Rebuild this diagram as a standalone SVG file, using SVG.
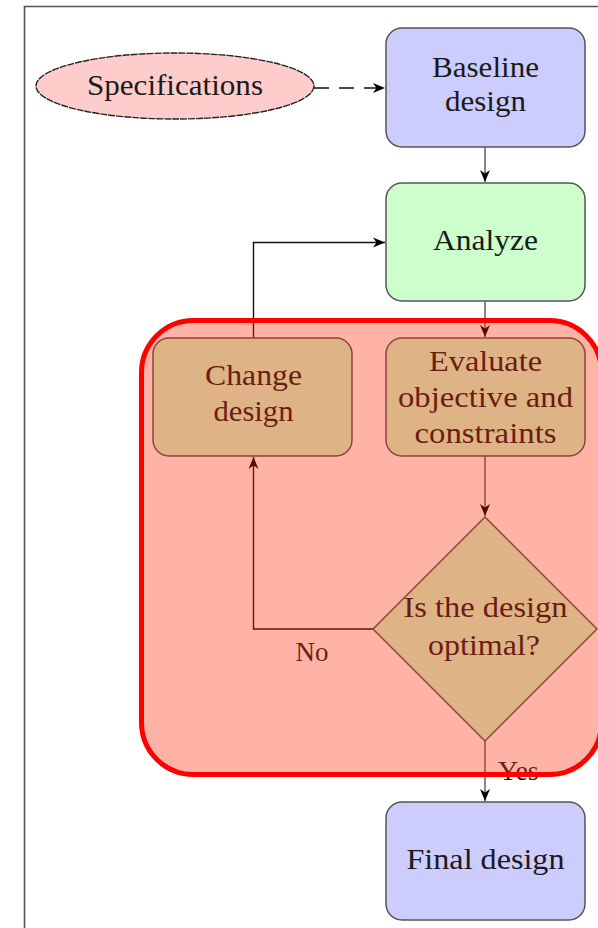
<svg xmlns="http://www.w3.org/2000/svg" width="598" height="928" viewBox="0 0 598 928">
  <style>
    .t { font-family: "Liberation Serif", "Times New Roman", serif; font-size: 29px; fill: #1a1a1a; text-anchor: middle; }
    .box { stroke: #555; stroke-width: 1.5; }
    .blue { fill: #ccccff; }
    .green { fill: #ccffcc; }
    .down { fill: none; stroke: #888; stroke-width: 2; }
    .wire { fill: none; stroke: #111; stroke-width: 1.4; }
  </style>
  <defs>
    <marker id="arr" markerUnits="userSpaceOnUse" markerWidth="13" markerHeight="11" refX="12" refY="5.5" orient="auto">
      <path d="M0,0.5 L12,5.5 L0,10.5 L3.5,5.5 z" fill="#000"/>
    </marker>
  </defs>
  <rect width="598" height="928" fill="#fff"/>
  <path d="M24.5,928 V6.5 H598" fill="none" stroke="#555" stroke-width="1.6"/>

  <g id="connectors">
    <path d="M314,88 H385" fill="none" stroke="#111" stroke-width="1.5" stroke-dasharray="15 10" marker-end="url(#arr)"/>
    <path class="down" d="M485,147 V182" marker-end="url(#arr)"/>
    <path class="down" d="M485,301 V337" marker-end="url(#arr)"/>
    <path class="down" d="M485,456 V516" marker-end="url(#arr)"/>
    <path class="wire" d="M373,629 H253.5 V457" marker-end="url(#arr)"/>
    <path class="wire" d="M253.5,338 V242.5 H385" marker-end="url(#arr)"/>
    <path class="down" d="M485,741 V801" marker-end="url(#arr)"/>
    <text class="t" x="312" y="661" style="font-size:27px">No</text>
    <text class="t" x="498" y="780" style="text-anchor:start;font-size:28px">Yes</text>
  </g>

  <g id="specifications">
    <ellipse cx="175" cy="86" rx="139" ry="33" fill="#ffcccc" stroke="#222" stroke-width="1.4" stroke-dasharray="7 1"/>
    <text class="t" x="175" y="95" textLength="176" lengthAdjust="spacingAndGlyphs">Specifications</text>
  </g>

  <g id="baseline-design">
    <rect class="box blue" x="386" y="28" width="199" height="119" rx="16"/>
    <text class="t" x="485.5" y="77" textLength="107" lengthAdjust="spacingAndGlyphs">Baseline</text>
    <text class="t" x="485.5" y="111" textLength="81" lengthAdjust="spacingAndGlyphs">design</text>
  </g>

  <g id="analyze">
    <rect class="box green" x="386" y="183" width="199" height="118" rx="16"/>
    <text class="t" x="485.5" y="250" textLength="105" lengthAdjust="spacingAndGlyphs">Analyze</text>
  </g>

  <g id="change-design">
    <rect class="box green" x="153" y="338" width="199" height="118" rx="16"/>
    <text class="t" x="253.5" y="385" textLength="97" lengthAdjust="spacingAndGlyphs">Change</text>
    <text class="t" x="253.5" y="421" textLength="80" lengthAdjust="spacingAndGlyphs">design</text>
  </g>

  <g id="evaluate">
    <rect class="box green" x="386" y="338" width="199" height="118" rx="16"/>
    <text class="t" x="485.5" y="371" textLength="113" lengthAdjust="spacingAndGlyphs">Evaluate</text>
    <text class="t" x="485.5" y="407" textLength="175" lengthAdjust="spacingAndGlyphs">objective and</text>
    <text class="t" x="485.5" y="443" textLength="142" lengthAdjust="spacingAndGlyphs">constraints</text>
  </g>

  <g id="is-optimal">
    <polygon class="box green" points="485,517 597,629 485,741 373,629"/>
    <text class="t" x="485.5" y="617" textLength="164" lengthAdjust="spacingAndGlyphs">Is the design</text>
    <text class="t" x="484" y="655" textLength="112" lengthAdjust="spacingAndGlyphs">optimal?</text>
  </g>

  <g id="final-design">
    <rect class="box blue" x="386" y="802" width="199" height="118" rx="16"/>
    <text class="t" x="485.5" y="869" textLength="158" lengthAdjust="spacingAndGlyphs">Final design</text>
  </g>

  <g id="optimization-loop">
    <rect x="141.5" y="320.5" width="460" height="454" rx="52" fill="rgb(255,38,0)" fill-opacity="0.35" stroke="#ff0000" stroke-width="5"/>
  </g>
</svg>
